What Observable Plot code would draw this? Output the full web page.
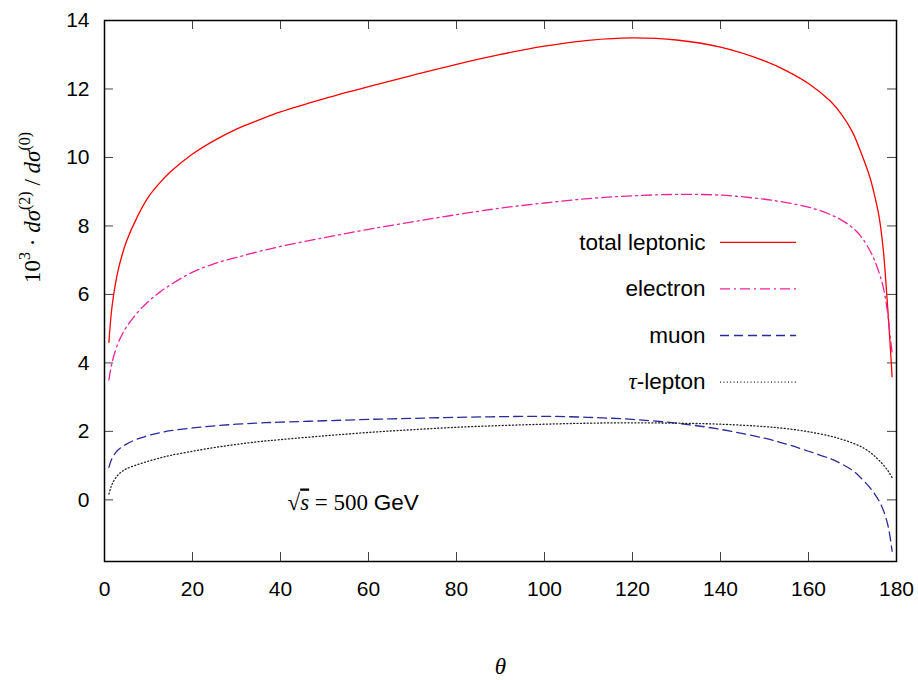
<!DOCTYPE html>
<html>
<head>
<meta charset="utf-8">
<script src="https://cdn.jsdelivr.net/npm/d3@7"></script>
<script src="https://cdn.jsdelivr.net/npm/@observablehq/plot@0.6"></script>
<style>
  html, body { margin: 0; padding: 0; background: #fff; }
  #chart svg { display: block; }
</style>
</head>
<body>
<div id="chart"></div>
<script>
// Scattering angle (degrees) at which each curve is sampled
const theta = [1, 1.5, 2, 3, 4, 5, 7.5, 10, 12.5, 15, 20, 25, 30, 35, 40, 50, 60, 70, 80, 90, 100, 110, 120,
  130, 140, 150, 155, 160, 165, 167.5, 170, 172, 174, 175, 176, 177, 178, 178.5, 179];

// 10^3 · dσ(2)/dσ(0) for each channel
const totalLeptonic = [4.6, 5.4, 5.92, 6.65, 7.15, 7.55, 8.28, 8.85, 9.25, 9.58, 10.1, 10.5, 10.83, 11.09, 11.33, 11.72, 12.07, 12.4, 12.72, 13.01, 13.25, 13.42, 13.49,
  13.43, 13.22, 12.82, 12.53, 12.16, 11.64, 11.26, 10.74, 10.12, 9.4, 8.9, 8.3, 7.3, 5.6, 4.65, 3.6];
const electron = [3.5, 3.88, 4.15, 4.55, 4.83, 5.05, 5.47, 5.8, 6.06, 6.28, 6.65, 6.9, 7.08, 7.25, 7.4, 7.66, 7.9, 8.12, 8.33, 8.52, 8.67, 8.8, 8.88,
  8.92, 8.9, 8.78, 8.68, 8.55, 8.33, 8.17, 7.95, 7.68, 7.27, 7.0, 6.65, 6.2, 5.45, 4.85, 4.3];
const muon = [0.95, 1.15, 1.28, 1.45, 1.55, 1.63, 1.78, 1.88, 1.96, 2.02, 2.1, 2.16, 2.21, 2.245, 2.27, 2.31, 2.35, 2.38, 2.41, 2.43, 2.44, 2.41, 2.35,
  2.24, 2.06, 1.8, 1.63, 1.42, 1.2, 1.05, 0.86, 0.63, 0.35, 0.18, -0.02, -0.3, -0.72, -1.05, -1.5];
const tauLepton = [0.17, 0.38, 0.53, 0.72, 0.83, 0.91, 1.03, 1.13, 1.22, 1.3, 1.42, 1.53, 1.62, 1.7, 1.76, 1.87, 1.97, 2.05, 2.12, 2.17, 2.21, 2.24, 2.25,
  2.24, 2.21, 2.14, 2.08, 1.99, 1.86, 1.77, 1.66, 1.55, 1.39, 1.28, 1.16, 1.02, 0.86, 0.76, 0.65];

const seriesNames = ["total leptonic", "electron", "muon", "τ-lepton"];
const seriesValues = [totalLeptonic, electron, muon, tauLepton];

const xTicks = [0, 20, 40, 60, 80, 100, 120, 140, 160, 180];
const yTicks = [0, 2, 4, 6, 8, 10, 12, 14];

const xLabel = "θ";
const yLabel = "10³ · dσ⁽²⁾ / dσ⁽⁰⁾";
const energyNote = "√s = 500 GeV";

// Line style for each channel
const lineStyle = {
  "total leptonic": {stroke: "#ff0000", dash: null},
  "electron": {stroke: "#ee2299", dash: "10,4,2,4"},
  "muon": {stroke: "#2a2a9a", dash: "9,5"},
  "τ-lepton": {stroke: "#222222", dash: "1,2.4"}
};

const width = 918, height = 680;
const margin = {top: 20, right: 22, bottom: 119, left: 104};
const innerW = width - margin.left - margin.right;
const innerH = height - margin.top - margin.bottom;
const tickLen = 9;
const sansFont = "'Liberation Sans', Arial, Helvetica, sans-serif";
const serifFont = "'Liberation Serif', 'Times New Roman', serif";
const fontSize = 21;
const legendFontSize = 22.5;

const rows = seriesNames.flatMap((name, k) =>
  theta.map((t, i) => ({series: name, theta: t, value: seriesValues[k][i]})));

// Legend placement (in axis units)
const legendEntries = seriesNames.map((name, row) => ({name, row}));
const legendTextX = 136.6, legendLineX1 = 140, legendLineX2 = 157.3;
const legendTopY = 7.52, legendStep = 1.36;
const legendY = d => legendTopY - d.row * legendStep;

const curveMarks = seriesNames.map(name =>
  Plot.line(rows.filter(d => d.series === name), {
    x: "theta", y: "value", curve: "catmull-rom",
    stroke: lineStyle[name].stroke,
    strokeWidth: 1.3,
    strokeDasharray: lineStyle[name].dash
  }));

const legendLines = seriesNames.map(name =>
  Plot.ruleY(legendEntries.filter(d => d.name === name), {
    y: legendY, x1: legendLineX1, x2: legendLineX2,
    stroke: lineStyle[name].stroke,
    strokeWidth: 1.3,
    strokeDasharray: lineStyle[name].dash
  }));

const chart = Plot.plot({
  width, height,
  marginTop: margin.top, marginRight: margin.right,
  marginBottom: margin.bottom, marginLeft: margin.left,
  style: {fontFamily: sansFont, fontSize: fontSize + "px", color: "#000", background: "#fff"},
  x: {domain: [0, 180]},
  y: {domain: [-1.8, 14]},
  marks: [
    // inward ticks on all four sides
    Plot.tickX(xTicks, {x: d => d, insetTop: innerH - tickLen, stroke: "#444", strokeWidth: 1}),
    Plot.tickX(xTicks, {x: d => d, insetBottom: innerH - tickLen, stroke: "#444", strokeWidth: 1}),
    Plot.tickY(yTicks, {y: d => d, insetRight: innerW - tickLen, stroke: "#444", strokeWidth: 1}),
    Plot.tickY(yTicks, {y: d => d, insetLeft: innerW - tickLen, stroke: "#444", strokeWidth: 1}),
    Plot.axisX(xTicks, {tickSize: 0, tickPadding: 20, fontSize, label: null, fill: "#000"}),
    Plot.axisY(yTicks, {tickSize: 0, tickPadding: 15, fontSize, label: null, fill: "#000"}),
    ...curveMarks,
    ...legendLines,
    Plot.text(legendEntries, {x: legendTextX, y: legendY, text: "name", textAnchor: "end",
      fontSize: legendFontSize, fill: "#000"}),
    Plot.text([energyNote], {x: 41.6, y: -0.1, text: d => d, textAnchor: "start",
      fontSize: legendFontSize, fill: "#000"}),
    Plot.text([xLabel], {frameAnchor: "bottom", dy: 112, text: d => d,
      fontFamily: serifFont, fontStyle: "italic", fontSize: 23, fill: "#000"}),
    Plot.text([yLabel], {frameAnchor: "left", dx: -72, dy: -8, rotate: -90, text: d => d,
      fontFamily: serifFont, fontSize: 23, fill: "#000"}),
    Plot.frame({stroke: "#000", strokeWidth: 1.5})
  ]
});

// Typeset the mathematical labels with mixed styles
function setRich(svg, content, parts) {
  d3.select(svg).selectAll("text").filter(function () { return this.textContent === content; })
    .each(function () {
      const t = d3.select(this);
      t.text(null);
      let shift = 0;
      for (const p of parts) {
        const span = t.append("tspan").text(p.text);
        const target = p.sup ? -0.42 * (p.base || 23) : 0;
        if (target !== shift) { span.attr("dy", (target - shift) + "px"); shift = target; }
        if (p.size) span.style("font-size", p.size + "px");
        if (p.italic) span.style("font-style", "italic");
        if (p.family) span.style("font-family", p.family);
        if (p.overline) span.style("text-decoration", "overline");
      }
    });
}

setRich(chart, yLabel, [
  {text: "10"},
  {text: "3", sup: true, size: 16},
  {text: " · "},
  {text: "dσ", italic: true},
  {text: "(2)", sup: true, size: 16},
  {text: " / "},
  {text: "dσ", italic: true},
  {text: "(0)", sup: true, size: 16}
]);

setRich(chart, energyNote, [
  {text: "√", family: serifFont, size: 23},
  {text: "s", family: serifFont, italic: true, overline: true, size: 23},
  {text: " = 500 ", family: serifFont, size: 23},
  {text: "GeV", family: sansFont}
]);

setRich(chart, "τ-lepton", [
  {text: "τ", family: serifFont, italic: true, size: 23},
  {text: "-lepton"}
]);

document.getElementById("chart").append(chart);
</script>
</body>
</html>
